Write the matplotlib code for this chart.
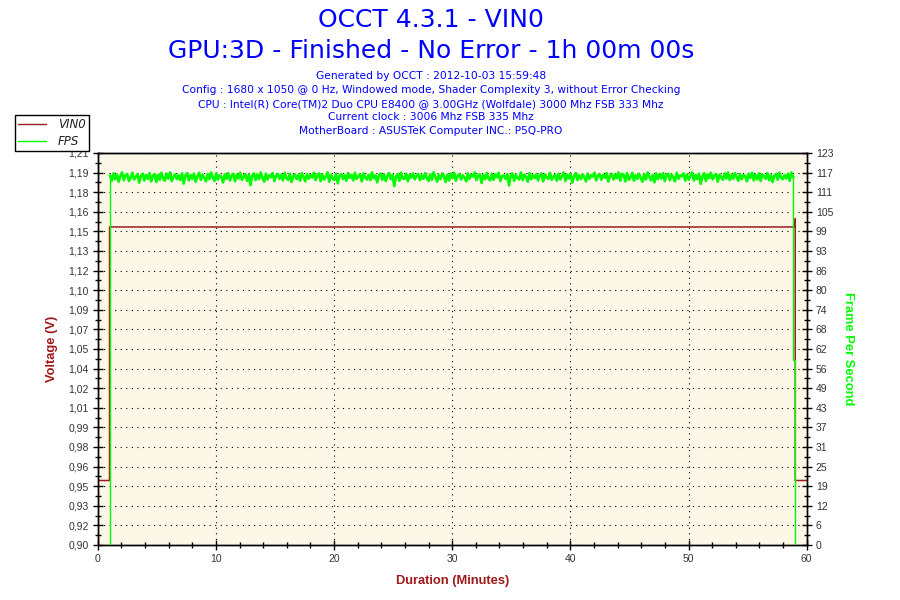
import numpy as np
import matplotlib
matplotlib.use("Agg")
import matplotlib.pyplot as plt
from matplotlib.ticker import MultipleLocator, AutoMinorLocator, FixedLocator

plt.rcParams["path.simplify"] = False

# Voltage trace (minutes, volts)
volt_time = [0.0, 1.0, 1.0, 59.0, 59.03, 59.03, 60.0]
volt_vals = [0.951, 0.951, 1.1515, 1.1515, 1.158, 0.951, 0.951]

# FPS trace: start ramp, noisy plateau, end drop
fps_start_time = [1.0, 1.0, 1.05]
fps_start_vals = [0.0, 115.9, 115.9]
fps_noise = [
    115.9, 114.3, 116.6, 114.8, 116.2, 114.0, 115.7, 116.9, 114.5, 116.0, 116.4, 114.2, 115.3, 116.8, 114.7, 115.5, 116.3, 113.7, 115.9, 116.5,
    114.4, 116.1, 114.9, 116.7, 114.1, 115.8, 116.4, 113.9, 116.2, 114.6, 116.8, 115.1, 114.3, 116.5, 115.0, 116.9, 114.2, 115.6, 116.3, 114.8,
    116.0, 114.5, 116.6, 113.4, 115.9, 116.7, 114.4, 116.1, 114.9, 116.5, 114.0, 115.7, 116.8, 114.6, 116.2, 115.2, 114.1, 116.4, 114.8, 116.9,
    115.3, 114.2, 116.6, 114.7, 116.0, 115.5, 113.8, 116.3, 114.9, 116.7, 114.4, 115.8, 116.5, 114.1, 116.2, 115.0, 116.8, 114.6, 115.6, 116.4,
    114.3, 116.1, 112.9, 115.9, 116.6, 114.5, 116.3, 114.8, 116.9, 115.2, 114.0, 116.5, 114.7, 116.0, 115.4, 116.7, 114.2, 115.8, 116.4, 114.9,
    116.2, 114.4, 116.8, 115.1, 114.6, 116.5, 113.9, 115.7, 116.3, 114.8, 116.0, 114.3, 116.7, 115.5, 114.1, 116.4, 114.9, 116.1, 115.3, 116.8,
    114.5, 115.9, 116.6, 114.2, 116.3, 114.7, 115.6, 116.9, 114.0, 116.2, 115.0, 114.6, 116.5, 113.5, 115.8, 116.4, 114.8, 116.0, 114.3, 116.7,
    115.2, 116.1, 114.4, 116.8, 114.9, 115.7, 116.3, 114.1, 116.6, 115.4, 114.7, 116.2, 114.5, 116.9, 115.1, 116.0, 113.8, 115.9, 116.5, 114.6,
    116.3, 114.2, 115.8, 116.7, 114.8, 116.1, 112.6, 115.6, 116.4, 114.3, 116.8, 115.0, 114.9, 116.5, 114.1, 116.2, 115.3, 116.6, 114.7, 115.9,
    116.4, 114.5, 116.0, 114.9, 116.7, 115.2, 114.2, 116.3, 114.6, 116.9, 115.5, 114.0, 116.1, 114.8, 116.6, 115.7, 113.9, 116.2, 114.4, 116.5,
    115.1, 116.8, 114.3, 115.8, 116.4, 114.7, 116.0, 115.3, 114.1, 116.6, 114.9, 116.2, 115.6, 116.9, 114.5, 115.9, 116.3, 113.6, 116.1, 114.8,
    116.7, 115.0, 114.4, 116.5, 114.6, 116.3, 115.4, 116.8, 114.2, 115.7, 116.0, 114.9, 116.4, 112.8, 115.8, 116.6, 114.3, 116.1, 115.2, 114.7,
    116.9, 114.5, 116.2, 115.5, 114.0, 116.7, 114.8, 116.0, 115.1, 116.4, 114.4, 115.9, 116.6, 114.1, 116.3, 115.3, 114.9, 116.8, 114.6, 115.6,
    116.1, 114.3, 116.5, 114.7, 115.8, 116.9, 114.2, 116.2, 115.0, 116.4, 113.7, 115.7, 116.7, 114.5, 116.0, 114.8, 116.3, 115.4, 114.1, 116.6,
    114.9, 116.0, 115.6, 116.8, 114.4, 115.9, 116.3, 114.6, 116.1, 115.2, 116.7, 114.0, 115.8, 116.5, 114.7, 116.2, 115.1, 116.9, 114.3, 116.4,
    116.2, 114.1, 116.7, 114.6, 115.4, 116.8, 114.3, 116.0, 114.9, 116.5, 115.2, 114.0, 116.3, 114.7, 116.9, 115.6, 114.4, 116.1, 113.8, 116.6,
    114.8, 116.4, 115.0, 116.7, 114.2, 115.9, 116.5, 114.5, 116.2, 115.3, 114.1, 116.8, 114.9, 116.0, 115.7, 116.6, 114.3, 116.3, 114.6, 115.8,
    116.9, 114.4, 116.1, 114.8, 116.5, 113.3, 115.6, 116.7, 114.2, 116.3, 115.1, 116.8, 114.7, 115.9, 116.4, 114.0, 116.2, 115.4, 114.6, 116.6,
    115.0, 116.9, 114.5, 116.1, 114.9, 116.7, 115.5, 114.3, 116.4, 114.8, 116.0, 115.8, 114.1, 116.5, 115.2, 116.8, 114.4, 116.2, 114.7, 116.6,
    114.2, 116.3, 115.7, 114.9, 116.7, 114.5, 116.0, 113.9, 115.9, 116.4, 114.6, 116.8, 115.3, 114.8, 116.1, 115.0, 116.5, 114.3, 116.9, 115.5,
]
fps_end_time = [58.85, 58.87, 58.87, 58.98, 58.98]
fps_end_vals = [115.5, 115.5, 58.0, 58.0, 0.0]

volt_ticks = [0.90 + i * 0.0155 for i in range(21)]
volt_labels = ["0,90", "0,92", "0,93", "0,95", "0,96", "0,98", "0,99", "1,01", "1,02", "1,04", "1,05",
               "1,07", "1,09", "1,10", "1,12", "1,13", "1,15", "1,16", "1,18", "1,19", "1,21"]
fps_ticks = [i * 6.15 for i in range(21)]
fps_labels = ["0", "6", "12", "19", "25", "31", "37", "43", "49", "56", "62",
              "68", "74", "80", "86", "93", "99", "105", "111", "117", "123"]

title1 = "OCCT 4.3.1 - VIN0"
title2 = "GPU:3D - Finished - No Error - 1h 00m 00s"
info_lines = [
    "Generated by OCCT : 2012-10-03 15:59:48",
    "Config : 1680 x 1050 @ 0 Hz, Windowed mode, Shader Complexity 3, without Error Checking",
    "CPU : Intel(R) Core(TM)2 Duo CPU E8400 @ 3.00GHz (Wolfdale) 3000 Mhz FSB 333 Mhz",
    "Current clock : 3006 Mhz FSB 335 Mhz",
    "MotherBoard : ASUSTeK Computer INC.: P5Q-PRO",
]

red = "#9a1c1c"
label_red = "#a01818"
green = "#00ff00"
tick_col = "#333333"

fig = plt.figure(figsize=(9, 6), dpi=100)
ax = fig.add_axes([97.7 / 900, 55 / 600, 709 / 900, 392 / 600])
ax.set_facecolor("#fdf7e8")
ax2 = ax.twinx()

ax.set_xlim(0, 60)
ax.set_ylim(0.90, 1.21)
ax2.set_ylim(0, 123)

# plateau sample times
noise_t = np.linspace(1.05, 58.85, len(fps_noise))

ax.plot(volt_time, volt_vals, color=red, lw=1.1, zorder=3)
ax2.plot(fps_start_time, fps_start_vals, color=green, lw=1.0, zorder=3)
ax2.plot(noise_t, fps_noise, color=green, lw=1.9, zorder=3)
ax2.plot(fps_end_time, fps_end_vals, color=green, lw=1.0, zorder=3)

ax.yaxis.set_major_locator(FixedLocator(volt_ticks))
ax.set_yticklabels(volt_labels)
ax.yaxis.set_minor_locator(AutoMinorLocator(2))
ax2.yaxis.set_major_locator(FixedLocator(fps_ticks))
ax2.set_yticklabels(fps_labels)
ax2.yaxis.set_minor_locator(AutoMinorLocator(2))
ax.xaxis.set_major_locator(MultipleLocator(10))
ax.xaxis.set_minor_locator(MultipleLocator(2))

for a in (ax, ax2):
    a.tick_params(which="major", direction="inout", length=7, width=1, color="black",
                  labelsize=7.5, labelcolor=tick_col, pad=3)
    a.tick_params(which="minor", direction="inout", length=4, width=1, color="black")
    for s in a.spines.values():
        s.set_linewidth(1)
        s.set_color("black")
    for lbl in a.get_xticklabels() + a.get_yticklabels():
        lbl.set_family("Liberation Sans")

ax.grid(True, which="major", color="black", linestyle=(0, (1, 4)), lw=0.8)

lab_font = {"family": "Liberation Sans", "weight": "bold", "size": 9.3}
ax.set_xlabel("Duration (Minutes)", color=label_red, fontdict=lab_font, labelpad=8)
ax.set_ylabel("Voltage (V)", color=label_red, fontdict=lab_font, labelpad=7)
ax2.set_ylabel("Frame Per Second", color=green, fontdict=lab_font,
               rotation=-90, labelpad=15)

fig.text(0.479, 1 - 20 / 600, title1, ha="center", va="center", color="blue", fontsize=18)
fig.text(0.479, 1 - 51 / 600, title2, ha="center", va="center", color="blue", fontsize=18)
for i, line in enumerate(info_lines):
    fig.text(0.479, 1 - (76 + 13.8 * i) / 600, line, ha="center", va="center",
             color="blue", fontsize=7.7)

h1, = ax.plot([], [], color=red, lw=1)
h2, = ax.plot([], [], color=green, lw=1)
leg = fig.legend([h1, h2], ["VIN0", "FPS"], loc="upper left",
                 bbox_to_anchor=(15 / 900, 1 - 115 / 600), fancybox=False,
                 edgecolor="black", framealpha=1, borderpad=0.25, labelspacing=0.35,
                 handlelength=2.4, handletextpad=1.0, borderaxespad=0,
                 prop={"style": "italic", "size": 8.5})
leg.get_frame().set_linewidth(1)
for t in leg.get_texts():
    t.set_color("#222222")

fig.savefig("out.png", dpi=100)
